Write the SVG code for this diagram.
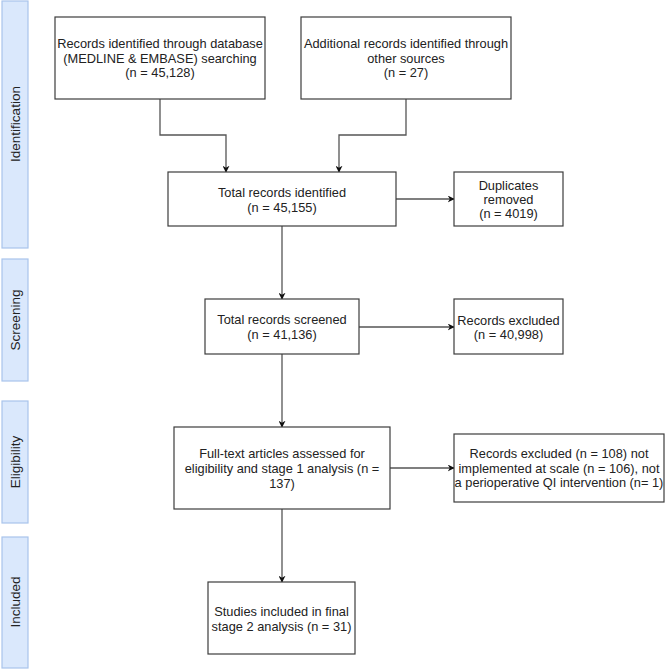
<svg xmlns="http://www.w3.org/2000/svg" width="667" height="670" viewBox="0 0 667 670">
<style>
.box{fill:#fff;stroke:#3c3c3c;stroke-width:1.2}
.band{fill:#dae8fc;stroke:#a9c4eb;stroke-width:1.2}
.t{font-family:"Liberation Sans",Arial,sans-serif;font-size:12.8px;fill:#222;text-anchor:middle}
.b{font-size:13.5px}
.c{fill:none;stroke:#555;stroke-width:1.3;marker-end:url(#ah)}
</style>
<defs>
<marker id="ah" viewBox="0 0 10 10" refX="9" refY="5" markerWidth="7" markerHeight="7" markerUnits="userSpaceOnUse" orient="auto">
<path d="M0,0 L10,5 L0,10 L3,5 Z" fill="#111"/>
</marker>
</defs>
<rect width="667" height="670" fill="#fff"/>
<g id="bands">
<g id="band-identification"><rect class="band" x="2" y="1" width="26" height="247"/><text class="t b" transform="translate(20,124) rotate(-90)">Identification</text></g>
<g id="band-screening"><rect class="band" x="2" y="259" width="26" height="122"/><text class="t b" transform="translate(20,320) rotate(-90)">Screening</text></g>
<g id="band-eligibility"><rect class="band" x="2" y="401" width="26" height="122"/><text class="t b" transform="translate(20,462) rotate(-90)">Eligibility</text></g>
<g id="band-included"><rect class="band" x="2" y="537" width="26" height="131"/><text class="t b" transform="translate(20,602) rotate(-90)">Included</text></g>
</g>
<g id="connectors">
<path class="c" d="M160,99 V135 H226 V172"/>
<path class="c" d="M406,99 V135 H339 V172"/>
<path class="c" d="M396,199 H454"/>
<path class="c" d="M282,226 V299"/>
<path class="c" d="M359,327 H454"/>
<path class="c" d="M282,354 V427"/>
<path class="c" d="M390,468 H454"/>
<path class="c" d="M282,509 V582"/>
</g>
<g id="n-database"><rect class="box" x="55" y="17" width="210" height="82"/>
<text class="t" x="160" y="48">Records identified through database</text>
<text class="t" x="160" y="63">(MEDLINE &amp; EMBASE) searching</text>
<text class="t" x="160" y="77">(n = 45,128)</text></g>
<g id="n-additional"><rect class="box" x="301" y="17" width="210" height="82"/>
<text class="t" x="406" y="48">Additional records identified through</text>
<text class="t" x="406" y="63">other sources</text>
<text class="t" x="406" y="77">(n = 27)</text></g>
<g id="n-total"><rect class="box" x="168" y="172" width="228" height="54"/>
<text class="t" x="282" y="197">Total records identified</text>
<text class="t" x="282" y="212">(n = 45,155)</text></g>
<g id="n-duplicates"><rect class="box" x="454" y="172" width="109" height="54"/>
<text class="t" x="508.5" y="190">Duplicates</text>
<text class="t" x="508.5" y="204">removed</text>
<text class="t" x="508.5" y="218">(n = 4019)</text></g>
<g id="n-screened"><rect class="box" x="205" y="299" width="154" height="55"/>
<text class="t" x="282" y="324">Total records screened</text>
<text class="t" x="282" y="339">(n = 41,136)</text></g>
<g id="n-excluded"><rect class="box" x="454" y="299" width="109" height="55"/>
<text class="t" x="508.5" y="325">Records excluded</text>
<text class="t" x="508.5" y="339">(n = 40,998)</text></g>
<g id="n-fulltext"><rect class="box" x="174" y="427" width="216" height="82"/>
<text class="t" x="282" y="458">Full-text articles assessed for</text>
<text class="t" x="282" y="473">eligibility and stage 1 analysis (n =</text>
<text class="t" x="282" y="488">137)</text></g>
<g id="n-excluded2"><rect class="box" x="454" y="434" width="210" height="68"/>
<text class="t" x="559" y="458">Records excluded (n = 108) not</text>
<text class="t" x="559" y="473">implemented at scale (n = 106), not</text>
<text class="t" x="559" y="487">a perioperative QI intervention (n= 1)</text></g>
<g id="n-studies"><rect class="box" x="208" y="582" width="147" height="72"/>
<text class="t" x="281.5" y="616">Studies included in final</text>
<text class="t" x="281.5" y="631">stage 2 analysis (n = 31)</text></g>
</svg>
